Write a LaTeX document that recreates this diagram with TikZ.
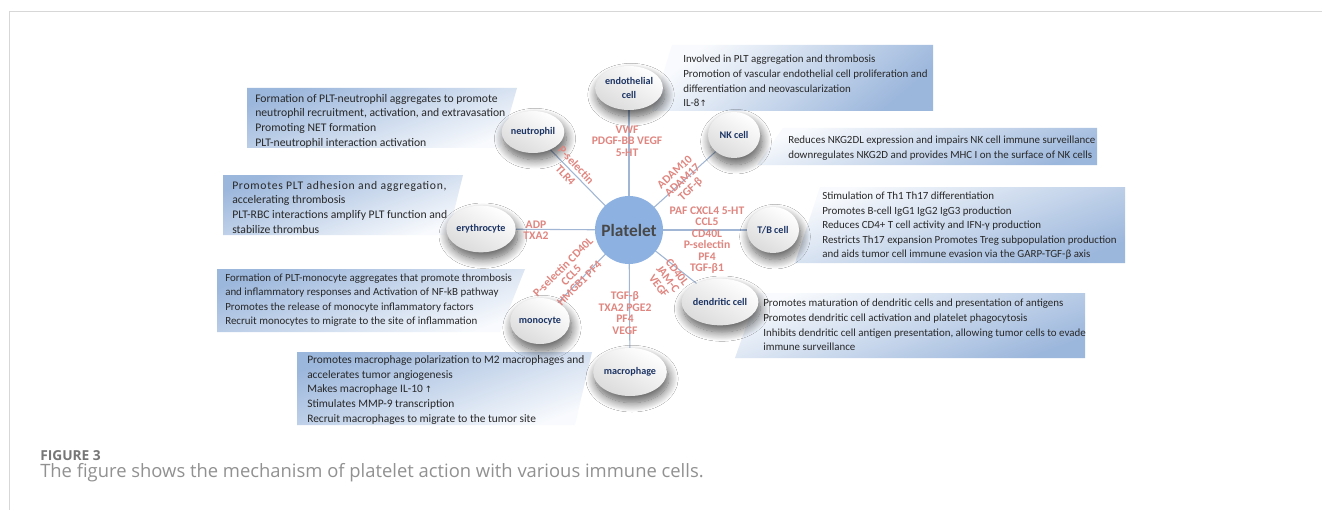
\documentclass[tikz,border=0pt]{standalone}
\usepackage{fontspec}
\setmainfont{Carlito}
\newfontfamily\capfont{Open Sans}
\newfontfamily\arrowfont{DejaVu Sans}
\usetikzlibrary{shapes.geometric,shadows.blur}

\definecolor{panelblue}{RGB}{156,183,220}
\definecolor{panellight}{RGB}{248,250,253}
\definecolor{infotext}{RGB}{40,40,40}
\definecolor{cellnavy}{RGB}{28,52,100}
\definecolor{molred}{RGB}{224,134,128}
\definecolor{linkblue}{RGB}{160,182,212}
\definecolor{pltblue}{RGB}{141,178,226}
\definecolor{pltgray}{RGB}{72,72,72}
\definecolor{framegray}{RGB}{215,215,215}
\definecolor{capgray}{RGB}{118,118,118}

\newcommand{\uparr}{{\arrowfont\fontsize{6.5}{7}\selectfont ↑}}

\tikzset{
  cellnode/.style={ellipse, inner sep=0pt, align=center,
    shading=axis, top color=white, bottom color=black!14, shading angle=-30,
    blur shadow={shadow xshift=1.5pt, shadow yshift=-5pt,
      shadow blur radius=7pt, shadow blur steps=14, shadow opacity=65},
    font=\fontsize{7.6}{10}\selectfont\bfseries, text=cellnavy},
  link/.style={draw=linkblue, line width=0.8pt},
  mol/.style={font=\fontsize{8.7}{8.6}\selectfont\bfseries, text=molred,
    align=center, inner sep=0pt},
  info/.style={font=\fontsize{8.2}{10.9}\selectfont, text=infotext,
    align=left, anchor=west, inner sep=0pt},
  infobig/.style={info, font=\fontsize{8.75}{11}\selectfont},
  lpanel/.style={draw=none, shading=axis, top color=panelblue,
    bottom color=panellight, shading angle=20},
  rpanel/.style={draw=none, shading=axis, top color=panellight,
    bottom color=panelblue, shading angle=20},
}

\begin{document}
\begin{tikzpicture}[x=0.75pt, y=-0.75pt]
  \useasboundingbox (0,0) rectangle (1322,510);
  \fill[white] (0,0) rectangle (1322,510);

  % page frame
  \draw[framegray, line width=1.1pt] (9,11.5) -- (1322,11.5);
  \draw[framegray, line width=1.1pt] (9.5,11) -- (9.5,510);

  % description panels
  \path[rpanel, shading angle=40] (672,45) -- (933,45) -- (933,111) -- (652,111) -- cycle;
  \path[lpanel] (247,88) -- (517,88) -- (500,148) -- (247,148) -- cycle;
  \path[lpanel] (223,175) -- (463,175) -- (448,235) -- (223,235) -- cycle;
  \path[lpanel] (217,269) -- (525,269) -- (500,332) -- (217,332) -- cycle;
  \path[lpanel] (297,352) -- (592,352) -- (575,425) -- (297,425) -- cycle;
  \path[rpanel] (783,128) -- (1097,128) -- (1097,165) -- (757,165) -- cycle;
  \path[rpanel] (820,187) -- (1125,187) -- (1125,263) -- (795,263) -- cycle;
  \path[rpanel] (758,293) -- (1085,293) -- (1085,358) -- (735,358) -- cycle;

  % panel texts
  \node[info] (endoTxt) at (683,81) {Involved in PLT aggregation and thrombosis\\
    Promotion of vascular endothelial cell proliferation and\\
    differentiation and neovascularization\\IL-8\uparr};
  \node[infobig] (neutTxt) at (255,121) {Formation of PLT-neutrophil aggregates to promote\\
    neutrophil recruitment, activation, and extravasation\\
    Promoting NET formation\\PLT-neutrophil interaction activation};
  \node[infobig] (eryTxt) at (232,207) {{\addfontfeatures{LetterSpace=6}Promotes PLT adhesion and aggregation,}\\
    accelerating thrombosis\\
    PLT-RBC interactions amplify PLT function and\\stabilize thrombus};
  \node[info] (monoTxt) at (225,300) {Formation of PLT-monocyte aggregates that promote thrombosis\\
    and inflammatory responses and Activation of NF-kB pathway\\
    Promotes the release of monocyte inflammatory factors\\
    Recruit monocytes to migrate to the site of inflammation};
  \node[info, font=\fontsize{8.55}{10.9}\selectfont] (macTxt) at (307,390) {Promotes macrophage polarization to M2 macrophages and\\
    accelerates tumor angiogenesis\\
    Makes macrophage IL-10\,\uparr\\
    Stimulates MMP-9 transcription\\
    Recruit macrophages to migrate to the tumor site};
  \node[info] (nkTxt) at (788,148) {Reduces NKG2DL expression and impairs NK cell immune surveillance\\
    downregulates NKG2D and provides MHC I on the surface of NK cells};
  \node[info] (tbTxt) at (822,226) {Stimulation of Th1 Th17 differentiation\\
    Promotes B-cell IgG1 IgG2 IgG3 production\\
    Reduces CD4+ T cell activity and IFN-γ production\\
    Restricts Th17 expansion Promotes Treg subpopulation production\\
    and aids tumor cell immune evasion via the GARP-TGF-β axis};
  \node[info] (dendTxt) at (763,325) {Promotes maturation of dendritic cells and presentation of antigens\\
    Promotes dendritic cell activation and platelet phagocytosis\\
    Inhibits dendritic cell antigen presentation, allowing tumor cells to evade\\
    immune surveillance};

  % central platelet and surrounding cells
  \node[circle, minimum size=51pt, inner sep=0pt] (plt) at (629,230) {};

  \coordinate (endoC) at (629,88);
  \coordinate (neutC) at (533,132);
  \coordinate (nkC) at (734,135);
  \coordinate (tbC) at (773,230);
  \coordinate (eryC) at (481,229);
  \coordinate (monoC) at (540,321);
  \coordinate (dendC) at (720,302);
  \coordinate (macC) at (630,372);

  \draw[link] (plt.center) -- (endoC);
  \draw[link] (plt.center) -- (neutC);
  \draw[link] (plt.center) -- (nkC);
  \draw[link] (plt.center) -- (tbC);
  \draw[link] (plt.center) -- (eryC);
  \draw[link] (plt.center) -- (monoC);
  \draw[link] (plt.center) -- (dendC);
  \draw[link] (plt.center) -- (macC);

  \node[cellnode, minimum width=43.5pt, minimum height=33pt] (endo) at (endoC) {endothelial\\cell};
  \node[cellnode, minimum width=43.5pt, minimum height=31.5pt] (neut) at (neutC) {neutrophil};
  \node[cellnode, minimum width=39pt, minimum height=34.5pt] (nk) at (nkC) {NK cell};
  \node[cellnode, minimum width=39pt, minimum height=34.5pt] (tb) at (tbC) {T/B cell};
  \node[cellnode, minimum width=43.5pt, minimum height=35pt] (ery) at (eryC) {erythrocyte};
  \node[cellnode, minimum width=39pt, minimum height=34.5pt] (mono) at (monoC) {monocyte};
  \node[cellnode, minimum width=49.5pt, minimum height=35pt] (dend) at (dendC) {dendritic cell};
  \node[cellnode, minimum width=42pt, minimum height=36pt] (mac) at (macC) {macrophage};

  \node[circle, fill=pltblue, minimum size=51pt, inner sep=0pt,
    font=\fontsize{13}{14}\selectfont\bfseries, text=pltgray] (pltDisc) at (plt) {Platelet};

  % mediators on each link
  \node[mol] (endoMol) at (627,141) {VWF\\PDGF-BB VEGF\\5-HT};
  \node[mol, rotate=-47, font=\fontsize{8.7}{11}\selectfont\bfseries] (neutMol) at (571,170) {P-selectin\\TLR4};
  \node[mol, rotate=43] (nkMol) at (683,181) {ADAM10\\ADAM17\\TGF-β};
  \node[mol] (tbMol) at (707,240) {PAF CXCL4 5-HT\\CCL5\\CD40L\\P-selectin\\PF4\\TGF-β1};
  \node[mol] (eryMol) at (536,230) {ADP\\TXA2};
  \node[mol, rotate=45] (monoMol) at (571,275) {P-selectin CD40L\\CCL5\\HMGB1 PF4};
  \node[mol, rotate=-53] (dendMol) at (668,279) {CD40L\\JAM-C\\VEGF};
  \node[mol] (macMol) at (625,313) {TGF-β\\TXA2 PGE2\\PF4\\VEGF};

  % caption
  \node[anchor=base west, inner sep=0pt, text=capgray,
    font=\capfont\bfseries\fontsize{10.3}{11}\selectfont] (figno) at (40,460) {FIGURE 3};
  \node[anchor=base west, inner sep=0pt, text=capgray!80,
    font=\capfont\fontsize{13.8}{15}\selectfont] (caption) at (40,477.5)
    {The figure shows the mechanism of platelet action with various immune cells.};
\end{tikzpicture}
\end{document}
